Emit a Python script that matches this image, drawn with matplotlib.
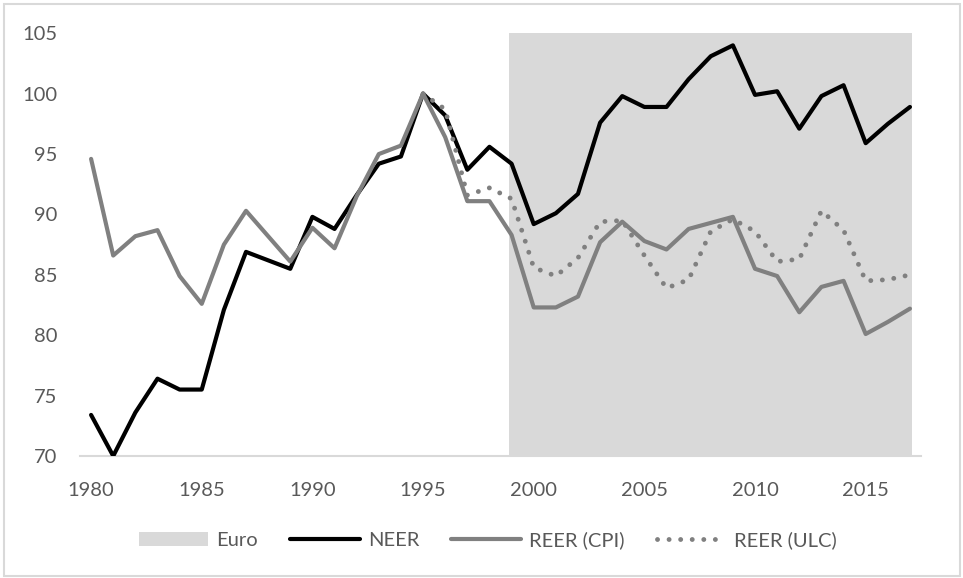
import matplotlib
matplotlib.use('Agg')
import matplotlib.pyplot as plt
from matplotlib.patches import Rectangle

plt.rcParams['font.family'] = ['Lato', 'DejaVu Sans']

years = list(range(1980, 2018))
neer = [73.4, 70.0, 73.6, 76.4, 75.5, 75.5, 82.1, 86.9, 86.2, 85.5,
        89.8, 88.8, 91.6, 94.2, 94.8, 100.0, 98.2, 93.7, 95.6, 94.2,
        89.2, 90.1, 91.7, 97.6, 99.8, 98.9, 98.9, 101.2, 103.1, 104.0,
        99.9, 100.2, 97.1, 99.8, 100.7, 95.9, 97.5, 98.9]
reer_cpi = [94.6, 86.6, 88.2, 88.7, 84.9, 82.6, 87.5, 90.3, 88.2, 86.1,
            88.9, 87.2, 91.5, 95.0, 95.7, 100.0, 96.4, 91.1, 91.1, 88.3,
            82.3, 82.3, 83.2, 87.7, 89.4, 87.8, 87.1, 88.8, 89.3, 89.8,
            85.5, 84.9, 81.9, 84.0, 84.5, 80.1, 81.1, 82.2]
ulc_years = list(range(1995, 2018))
reer_ulc = [100.0, 98.7, 91.6, 92.2, 91.3, 85.6, 84.9, 86.4, 89.4, 89.5,
            86.6, 83.9, 84.6, 88.6, 89.6, 88.6, 86.1, 86.3, 90.3, 88.7,
            84.5, 84.6, 85.0]
euro_start, euro_end = 1999, 2017

label_color = '#595959'
fig = plt.figure(figsize=(9.63, 5.78), dpi=100)
ax = fig.add_axes([0.0831, 0.2111, 0.8733, 0.7313])

ax.axvspan(euro_start - 0.1, euro_end + 0.1, color='#D9D9D9', lw=0, label='Euro', zorder=1)
ax.plot(years, neer, color='black', lw=3.0, solid_joinstyle='round',
        solid_capstyle='round', label='NEER', zorder=3)
ax.plot(years, reer_cpi, color='#808080', lw=3.0, solid_joinstyle='round',
        solid_capstyle='round', label='REER (CPI)', zorder=4)
ax.plot(ulc_years, reer_ulc, color='#808080', lw=3.5, linestyle=(0, (0.01, 2.37)),
        dash_capstyle='round', label='REER (ULC)', zorder=5)

ax.set_xlim(1979.5, 2017.5)
ax.set_ylim(70, 105)
ax.set_xticks(range(1980, 2016, 5))
ax.set_yticks(range(70, 106, 5))
for s in ['top', 'right', 'left']:
    ax.spines[s].set_visible(False)
ax.spines['bottom'].set_color('#D9D9D9')
ax.spines['bottom'].set_linewidth(1.5)
ax.tick_params(axis='both', length=0, labelsize=14.5, labelcolor=label_color)
ax.tick_params(axis='y', pad=16.5)
ax.tick_params(axis='x', pad=18.5)

fig.legend(loc='center', bbox_to_anchor=(488 / 963, 1 - 540 / 578), ncol=4,
           frameon=False, fontsize=14.5, labelcolor=label_color,
           handlelength=3.45, handletextpad=0.4, columnspacing=1.6)

fig.patches.append(Rectangle((4 / 963, 2 / 578), 956 / 963, 572 / 578,
                             transform=fig.transFigure, fill=False,
                             edgecolor='#D9D9D9', lw=1.5))

fig.savefig('out.png', dpi=100)
